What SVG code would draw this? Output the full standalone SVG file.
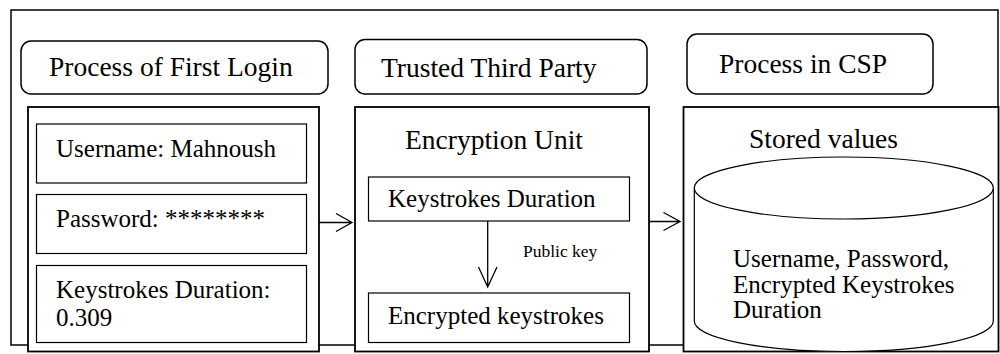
<svg xmlns="http://www.w3.org/2000/svg" width="1000" height="354" viewBox="0 0 1000 354">
<style>
text{font-family:"Liberation Serif","Times New Roman",serif;fill:#000}
.h{font-size:27.5px}
.b{font-size:25px}
.s{font-size:17.5px}
.frame{fill:none;stroke:#000;stroke-width:1.5}
.lbl{fill:#fff;stroke:#000;stroke-width:1.5}
.big{fill:#fff;stroke:#000;stroke-width:1.8}
.in{fill:#fff;stroke:#000;stroke-width:1.2}
.con{fill:none;stroke:#000;stroke-width:1.3}
</style>
<rect width="1000" height="354" fill="#fff"/>
<rect class="frame" x="11" y="10" width="987" height="335"/>
<g id="title-login"><rect class="lbl" x="21" y="41" width="307" height="53" rx="10"/><text class="h" x="49" y="76">Process of First Login</text></g>
<g id="title-ttp"><rect class="lbl" x="355" y="39.5" width="292" height="54.5" rx="10"/><text class="h" x="381" y="77">Trusted Third Party</text></g>
<g id="title-csp"><rect class="lbl" x="687" y="34" width="246" height="60" rx="10"/><text class="h" x="719" y="73">Process in CSP</text></g>
<g id="login"><rect class="big" x="28" y="107" width="291" height="244.5"/>
<g id="username"><rect class="in" x="36.5" y="124" width="270" height="59"/><text class="b" x="56" y="157">Username: Mahnoush</text></g>
<g id="password"><rect class="in" x="36.5" y="194.5" width="270" height="59"/><text class="b" x="56" y="227">Password: ********</text></g>
<g id="duration"><rect class="in" x="36.5" y="265.5" width="270" height="77"/><text class="b" x="56" y="298">Keystrokes Duration:</text><text class="b" x="56" y="326">0.309</text></g>
</g>
<g id="ttp"><rect class="big" x="355" y="107" width="294" height="244.5"/><text class="h" x="405" y="149">Encryption Unit</text>
<g id="ks"><rect class="in" x="368.5" y="177" width="261" height="44"/><text class="b" x="388" y="207">Keystrokes Duration</text></g>
<g id="enc"><rect class="in" x="368.5" y="293" width="261" height="49.5"/><text class="b" x="388" y="324">Encrypted keystrokes</text></g>
</g>
<g id="csp"><rect class="big" x="683.5" y="107" width="315" height="244.5"/><text class="h" x="749" y="148">Stored values</text>
<g id="store"><path class="in" d="M694.3 188 V321 A149.5 30.5 0 0 0 993.3 321 V188"/><ellipse class="in" cx="843.8" cy="188" rx="149.5" ry="31"/>
<text class="b" x="733" y="267">Username, Password,</text><text class="b" x="733" y="293">Encrypted Keystrokes</text><text class="b" x="733" y="318">Duration</text></g>
</g>
<g id="connectors">
<path class="con" d="M319 222.5 H352 M336 213.5 L352 222.5 L336 231.5"/>
<path class="con" d="M649 221.5 H680 M663.5 212.5 L680 221.5 L663.5 230.5"/>
<path class="con" d="M487.7 221 V287 M478.5 267 L487.7 287 L497 267"/>
<text class="s" x="523" y="257">Public key</text>
</g>
</svg>
